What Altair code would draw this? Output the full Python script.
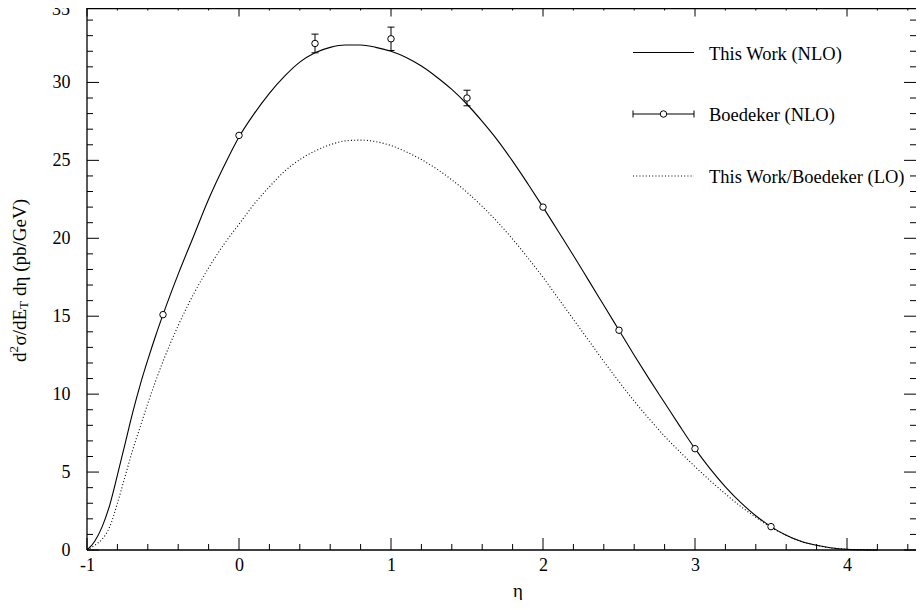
import altair as alt
import pandas as pd

# ---------------- data ----------------
eta_grid = [-1.0, -0.95, -0.9, -0.85, -0.8, -0.75, -0.7, -0.65, -0.6, -0.55, -0.5, -0.4, -0.3, -0.2, -0.1,
            0.0, 0.1, 0.2, 0.3, 0.4, 0.5, 0.6, 0.7, 0.8, 0.9, 1.0, 1.1, 1.2, 1.3, 1.4,
            1.5, 1.6, 1.7, 1.8, 1.9, 2.0, 2.1, 2.2, 2.3, 2.4, 2.5, 2.6, 2.7, 2.8, 2.9,
            3.0, 3.1, 3.2, 3.3, 3.4, 3.5, 3.6, 3.7, 3.8, 3.9, 4.0, 4.1, 4.2]
nlo_vals = [0.0, 0.55, 1.5, 2.9, 4.8, 6.8, 8.8, 10.6, 12.2, 13.7, 15.1, 17.7, 20.1, 22.5, 24.6,
            26.5, 28.0, 29.3, 30.4, 31.3, 31.9, 32.25, 32.4, 32.4, 32.25, 32.0, 31.6, 31.05, 30.35, 29.55,
            28.6, 27.5, 26.3, 24.95, 23.5, 22.0, 20.45, 18.9, 17.3, 15.7, 14.1, 12.5, 10.95, 9.45, 7.95,
            6.5, 5.2, 4.05, 3.05, 2.2, 1.5, 0.95, 0.55, 0.3, 0.13, 0.05, 0.015, 0.0]
lo_vals = [0.0, 0.3, 0.7, 1.5, 3.0, 4.7, 6.4, 7.9, 9.4, 10.8, 12.1, 14.4, 16.4, 18.1, 19.6,
           20.9, 22.2, 23.3, 24.3, 25.05, 25.6, 26.0, 26.25, 26.3, 26.2, 25.95, 25.55, 25.05, 24.45, 23.75,
           22.95, 22.05, 21.05, 19.95, 18.75, 17.5, 16.15, 14.8, 13.45, 12.1, 10.8, 9.55, 8.4, 7.3, 6.3,
           5.35, 4.45, 3.6, 2.8, 2.1, 1.45, 0.95, 0.55, 0.3, 0.13, 0.05, 0.015, 0.0]

bk_eta = [-0.5, 0.0, 0.5, 1.0, 1.5, 2.0, 2.5, 3.0, 3.5]
bk_val = [15.1, 26.6, 32.5, 32.8, 29.0, 22.0, 14.1, 6.5, 1.5]
bk_err = [0.0, 0.0, 0.6, 0.75, 0.5, 0.0, 0.0, 0.0, 0.0]

x_major = [-1, 0, 1, 2, 3, 4]
x_minor = [-0.8, -0.6, -0.4, -0.2, 0.2, 0.4, 0.6, 0.8, 1.2, 1.4, 1.6, 1.8, 2.2, 2.4,
           2.6, 2.8, 3.2, 3.4, 3.6, 3.8, 4.2, 4.4]
y_major = [0, 5, 10, 15, 20, 25, 30, 35]
y_minor = [v for v in range(1, 35) if v % 5 != 0]

legend_labels = ["This Work (NLO)", "Boedeker (NLO)", "This Work/Boedeker (LO)"]
x_title = "η"
y_title_parts = ["d", "2", "σ/dE", "T", "dη (pb/GeV)"]

# ---------------- layout ----------------
PX_PER_ETA = 152
W, H = 829, 542
X_MAX = -1 + W / PX_PER_ETA
TOP = -3.5          # pixel where the top of the y range falls (just above the view)
FONT = "Liberation Serif"
MAJ, MIN = 12, 6

xs = alt.Scale(domain=[-1, X_MAX], nice=False, zero=False)
ys = alt.Scale(domain=[0, 35], range=[H, TOP], nice=False, zero=False)

xaxis = alt.Axis(values=x_major, labelExpr="'' + datum.value", labelFont=FONT, labelFontSize=18,
                 labelColor="black", labelPadding=6, labelFlush=False, ticks=False, domain=False,
                 grid=False)
# the top label (35) sits at the very edge; it is drawn separately so that it stays visible
yaxis = alt.Axis(values=y_major[:-1], labelExpr="'' + datum.value", labelFont=FONT, labelFontSize=18,
                 labelColor="black", labelPadding=17, labelFlush=False, ticks=False, domain=False,
                 grid=False)


def X(f):
    return alt.X(f, scale=xs, axis=xaxis, title=None)


def Y(f):
    return alt.Y(f, scale=ys, axis=yaxis, title=None)


one = pd.DataFrame({"a": [0]})
curves = pd.DataFrame({"eta": eta_grid, "nlo": nlo_vals, "lo": lo_vals})
pts = pd.DataFrame({"eta": bk_eta, "val": bk_val, "err": bk_err})
pts["lo_e"] = pts["val"] - pts["err"]
pts["hi_e"] = pts["val"] + pts["err"]
errs = pts[pts["err"] > 0]

layers = []

# curves
layers.append(alt.Chart(curves).mark_line(color="black", strokeWidth=1.1, interpolate="monotone")
              .encode(x=X("eta:Q"), y=Y("nlo:Q")))
layers.append(alt.Chart(curves).mark_line(color="black", strokeWidth=1.1, strokeDash=[1, 2.2],
                                          interpolate="monotone")
              .encode(x=X("eta:Q"), y=Y("lo:Q")))

# error bars
layers.append(alt.Chart(errs).mark_rule(color="black", strokeWidth=1)
              .encode(x=X("eta:Q"), y=Y("lo_e:Q"), y2="hi_e:Q"))
for f in ["lo_e", "hi_e"]:
    layers.append(alt.Chart(errs).mark_rule(color="black", strokeWidth=1, xOffset=-3.5, x2Offset=3.5)
                  .encode(x=X("eta:Q"), x2="eta:Q", y=Y(f + ":Q")))

# points
layers.append(alt.Chart(pts).mark_point(shape="circle", size=42, fill="white", fillOpacity=1,
                                        stroke="black", strokeWidth=1, opacity=1)
              .encode(x=X("eta:Q"), y=Y("val:Q")))


# ticks (inward)
def tick_layers(vals, length):
    d = pd.DataFrame({"v": vals})
    return [
        alt.Chart(d).mark_rule(color="black", strokeWidth=1)
        .encode(x=X("v:Q"), y=alt.value(H), y2=alt.value(H - length)),
        alt.Chart(d).mark_rule(color="black", strokeWidth=1)
        .encode(x=X("v:Q"), y=alt.value(0), y2=alt.value(length + TOP)),
    ]


def ytick_layers(vals, length):
    d = pd.DataFrame({"v": vals})
    return [
        alt.Chart(d).mark_rule(color="black", strokeWidth=1)
        .encode(y=Y("v:Q"), x=alt.value(0), x2=alt.value(length)),
        alt.Chart(d).mark_rule(color="black", strokeWidth=1)
        .encode(y=Y("v:Q"), x=alt.value(W), x2=alt.value(W - length)),
    ]


layers += tick_layers(x_major, MAJ) + tick_layers(x_minor, MIN)
layers += ytick_layers(y_major, MAJ) + ytick_layers(y_minor, MIN)

# top y label, kept inside the drawing
layers.append(alt.Chart(one).mark_text(align="right", baseline="middle", font=FONT, fontSize=18,
                                       color="black", text=str(y_major[-1]))
              .encode(x=alt.value(-17), y=alt.value(2)))

# frame (left, bottom, top)
layers.append(alt.Chart(one).mark_rule(color="black", strokeWidth=1.3)
              .encode(x=alt.value(0), y=alt.value(0), y2=alt.value(H)))
layers.append(alt.Chart(one).mark_rule(color="black", strokeWidth=1.3)
              .encode(y=alt.value(H), x=alt.value(0), x2=alt.value(W)))
layers.append(alt.Chart(one).mark_rule(color="black", strokeWidth=1.3)
              .encode(y=alt.value(0.6), x=alt.value(0), x2=alt.value(W)))

# legend (pixel positions inside the view)
LX1, LX2, LT = 546, 607, 622
LY = [44.5, 106, 168]
layers.append(alt.Chart(one).mark_rule(color="black", strokeWidth=1.1)
              .encode(x=alt.value(LX1), x2=alt.value(LX2), y=alt.value(LY[0])))
layers.append(alt.Chart(one).mark_rule(color="black", strokeWidth=1)
              .encode(x=alt.value(LX1), x2=alt.value(LX2), y=alt.value(LY[1])))
for xx in (LX1, LX2):
    layers.append(alt.Chart(one).mark_rule(color="black", strokeWidth=1)
                  .encode(x=alt.value(xx), y=alt.value(LY[1] - 3.5), y2=alt.value(LY[1] + 3.5)))
layers.append(alt.Chart(one).mark_point(shape="circle", size=42, fill="white", fillOpacity=1,
                                        stroke="black", strokeWidth=1, opacity=1)
              .encode(x=alt.value((LX1 + LX2) / 2), y=alt.value(LY[1])))
layers.append(alt.Chart(one).mark_rule(color="black", strokeWidth=1.1, strokeDash=[1, 2.2])
              .encode(x=alt.value(LX1), x2=alt.value(LX2), y=alt.value(LY[2])))
for lab, yy in zip(legend_labels, LY):
    layers.append(alt.Chart(one).mark_text(align="left", baseline="middle", font=FONT, fontSize=18.5,
                                           color="black", text=lab)
                  .encode(x=alt.value(LT), y=alt.value(yy + 1)))

# x title
layers.append(alt.Chart(one).mark_text(align="center", baseline="middle", font=FONT, fontSize=19,
                                       color="black", text=x_title)
              .encode(x=alt.value(431), y=alt.value(583)))

# y title (rotated, with super/subscript)
YT_X, YT_Y = -67, 354
offsets = [(0, 0, 19), (9.5, -6, 13), (16.5, 0, 19), (53, 4, 13), (66, 0, 19)]
for part, (dx, dy, fs) in zip(y_title_parts, offsets):
    layers.append(alt.Chart(one).mark_text(align="left", baseline="middle", font=FONT, fontSize=fs,
                                           color="black", angle=270, dx=dx, dy=dy, text=part)
                  .encode(x=alt.value(YT_X), y=alt.value(YT_Y)))

chart = alt.layer(*layers).properties(
    width=W, height=H,
    autosize=alt.AutoSizeParams(type="none"),
    padding={"left": 79, "top": 0, "right": 0, "bottom": 50},
    background="white",
).configure_view(stroke=None)

chart.save("out.html", embed_options={"renderer": "svg", "actions": False})
